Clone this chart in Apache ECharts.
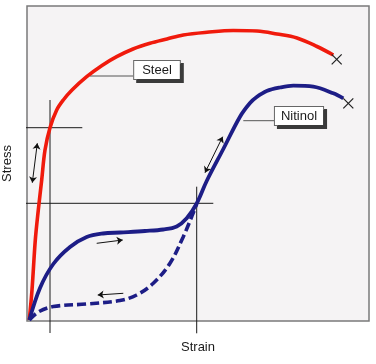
<!DOCTYPE html>
<html><head><meta charset="utf-8">
<script src="https://cdn.jsdelivr.net/npm/echarts@6/dist/echarts.min.js"></script>
<style>html,body{margin:0;padding:0;background:#fff}#c{width:376px;height:364px}</style>
</head><body><div id="c"></div>
<script>
// Steel curve (strain, stress) in arbitrary units
const steelStrain = [2.3, 5, 8.3, 11.3, 14.7, 18, 23, 29.7, 36.3, 45, 59.7, 75, 89.7, 106, 123, 140, 156.3, 180, 206.3, 230, 250, 270, 290, 306.3];
const steelStress = [1, 31, 81, 111, 141, 171, 193.3, 211, 221, 231, 244.3, 255.5, 264.3, 272, 277.7, 282, 286, 288.7, 290.5, 290, 287, 283, 274.5, 266];
// Nitinol loading curve
const nitiStrain = [2.3, 13, 26.3, 43, 59.7, 76, 93, 118, 136.3, 149.7, 159.7, 169.7, 179.7, 196.3, 213, 223, 229.7, 239.7, 253, 266.3, 286.3, 306.3, 316.3];
const nitiStress = [1, 33, 57, 74, 84, 87.5, 88.5, 90, 91.5, 94.5, 102.7, 117.5, 140, 172, 204.3, 218, 224, 230, 233.5, 235.3, 234.3, 227.7, 222.7];
// Nitinol unloading curve (dashed)
const unloadStrain = [2.3, 11.3, 26.3, 59.7, 93, 109.7, 126.3, 143, 156.3, 164.7, 169.7];
const unloadStress = [1, 9, 14.5, 17, 20.5, 26, 37.7, 57.7, 84.3, 104.3, 117];
// Reference guide lines
const guideLines = [
  [[23, 221], [23, -12]],
  [[-8, 193.3], [55.3, 193.3]],
  [[-8, 117.7], [186.3, 117.7]],
  [[169.7, 134.3], [169.7, -12.3]]
];
// Double-headed arrows and one-way arrows
const doubleArrows = [
  [[10.3, 177.7], [5.3, 138.3]],
  [[195.7, 184.3], [178, 148.3]]
];
const singleArrows = [
  [[69.7, 77.7], [95.7, 81]],
  [[96.3, 27.7], [70.7, 26]]
];
// Fracture marks (X) centres
const fractures = [[309.7, 261.7], [321.3, 217.7]];
// Leader lines and labels
const leaders = [
  [[63, 245], [106, 245]],
  [[216.3, 200.3], [248, 200.3]]
];
const labelNames = ['Steel', 'Nitinol'];
const labelPos = [[130, 251], [272, 205]];

function pairs(xs, ys) { return xs.map((x, i) => [x, ys[i]]); }
const xArm = 5;
const crossSegs = [];
fractures.forEach(([x, y]) => {
  crossSegs.push({coords: [[x - xArm, y + xArm], [x + xArm, y - xArm]]});
  crossSegs.push({coords: [[x - xArm, y - xArm], [x + xArm, y + xArm]]});
});

const FONT = '"Liberation Sans", Arial, Helvetica, sans-serif';
const series = [];
guideLines.concat(leaders).forEach((seg, i) => {
  series.push({
    type: 'line', data: seg, clip: false, symbol: 'none', silent: true, z: 1,
    lineStyle: {color: i < guideLines.length ? '#1a1a1a' : '#555', width: 1}
  });
});
series.push({
  type: 'line', data: pairs(steelStrain, steelStress), smooth: 0.35, symbol: 'none', z: 3,
  lineStyle: {color: '#f01a0c', width: 3.6}
});
series.push({
  type: 'line', data: pairs(unloadStrain, unloadStress), smooth: 0.35, symbol: 'none', z: 3,
  lineStyle: {color: '#1d1d86', width: 3.6, type: [9, 4]}
});
series.push({
  type: 'line', data: pairs(nitiStrain, nitiStress), smooth: 0.35, symbol: 'none', z: 4,
  lineStyle: {color: '#1d1d86', width: 3.8}
});
series.push({
  type: 'lines', coordinateSystem: 'cartesian2d', z: 5,
  symbol: ['arrow', 'arrow'], symbolSize: 6,
  lineStyle: {color: '#111', width: 1, opacity: 1},
  data: doubleArrows.map(c => ({coords: c}))
});
series.push({
  type: 'lines', coordinateSystem: 'cartesian2d', z: 5,
  symbol: ['none', 'arrow'], symbolSize: 6,
  lineStyle: {color: '#111', width: 1, opacity: 1},
  data: singleArrows.map(c => ({coords: c}))
});
series.push({
  type: 'lines', coordinateSystem: 'cartesian2d', z: 5,
  symbol: ['none', 'none'],
  lineStyle: {color: '#222', width: 1.2, opacity: 1},
  data: crossSegs
});
series.push({
  type: 'scatter', symbolSize: 0, z: 6,
  itemStyle: {opacity: 1},
  data: labelPos.map((p, i) => ({
    value: p, name: labelNames[i],
    label: {padding: i === 0 ? [2, 8, 2, 8] : [2, 6, 2, 6]}
  })),
  label: {
    show: true, position: 'inside', formatter: '{b}',
    fontFamily: FONT, fontSize: 13, color: '#1a1a1a', lineHeight: 14,
    backgroundColor: '#ffffff', borderColor: '#666', borderWidth: 1,
    shadowColor: '#3a3a3a', shadowOffsetX: 3, shadowOffsetY: 3, shadowBlur: 0
  }
});

const chart = echarts.init(document.getElementById('c'));
chart.setOption({
  animation: false,
  grid: {
    left: 27, top: 6, width: 342, height: 315, show: true,
    outerBoundsMode: 'none', containLabel: false,
    backgroundColor: '#f5f3f4', borderColor: '#7a7a7a', borderWidth: 1.5
  },
  xAxis: {
    type: 'value', min: 0, max: 342,
    name: 'Strain', nameLocation: 'middle', nameGap: 20,
    nameTextStyle: {fontFamily: FONT, fontSize: 13, color: '#1a1a1a'},
    axisLine: {show: false}, axisTick: {show: false}, axisLabel: {show: false}, splitLine: {show: false}
  },
  yAxis: {
    type: 'value', min: 0, max: 315,
    name: 'Stress', nameLocation: 'middle', nameGap: 13, nameRotate: 90,
    nameTextStyle: {fontFamily: FONT, fontSize: 13, color: '#1a1a1a'},
    axisLine: {show: false}, axisTick: {show: false}, axisLabel: {show: false}, splitLine: {show: false}
  },
  series: series
});
</script></body></html>
